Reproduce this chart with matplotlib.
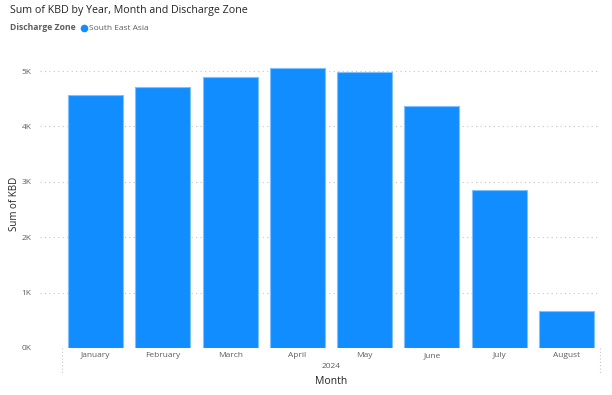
import matplotlib.pyplot as plt
from matplotlib.lines import Line2D

plt.rcParams['font.family'] = ['Open Sans', 'DejaVu Sans']

months = ['January', 'February', 'March', 'April', 'May', 'June', 'July', 'August']
kbd = [4570, 4710, 4890, 5050, 4980, 4370, 2850, 670]
yticks = [0, 1000, 2000, 3000, 4000, 5000]
ytick_labels = ['0K', '1K', '2K', '3K', '4K', '5K']

W, H = 612, 395
fig = plt.figure(figsize=(W / 100, H / 100), dpi=100)
# axes from x=40 to 600 px, y from 348 to 60 px (top-origin)
ax = fig.add_axes([40 / W, (H - 348) / H, 560 / W, (348 - 60) / H])

x = list(range(len(months)))
ax.bar(x, kbd, width=0.82, color='#118DFF', edgecolor='#7FC0FF', linewidth=0.8, zorder=3)

ax.set_xlim(-0.5 - 22 / 67.25, 7.5)
ax.set_ylim(0, 5200)
ax.set_yticks(yticks)
ax.set_yticklabels(ytick_labels)
ax.set_xticks(x)
ax.set_xticklabels(months)
ax.tick_params(axis='both', length=0, labelsize=6, labelcolor='#605E5C')
ax.tick_params(axis='y', pad=6)
ax.tick_params(axis='x', pad=3)
ax.grid(axis='y', linestyle=(0, (1, 3)), color='#C8C6C4', linewidth=0.8, zorder=0)
for s in ax.spines.values():
    s.set_visible(False)

ax.set_ylabel('Sum of KBD', fontsize=7, color='#252423')
ax.yaxis.set_label_coords((20 - 40) / 560, 0.5)

# category box under the axis
for px in (62, 600):
    fig.add_artist(Line2D([px / W, px / W], [(H - 348) / H, (H - 373) / H],
                          linestyle=(0, (1, 2)), color='#C8C6C4', linewidth=0.8))

fig.text(331 / W, (H - 367) / H, '2024', fontsize=6, color='#605E5C', ha='center', va='center')
fig.text(331 / W, (H - 381) / H, 'Month', fontsize=7.5, color='#252423', ha='center', va='center')

fig.text(10 / W, (H - 10) / H, 'Sum of KBD by Year, Month and Discharge Zone',
         fontsize=7.7, color='#252423', ha='left', va='center')
fig.text(10 / W, (H - 28) / H, 'Discharge Zone', fontsize=6.2, fontweight='bold',
         color='#605E5C', ha='left', va='center')
fig.add_artist(Line2D([84 / W], [(H - 28) / H], marker='o', markersize=4.5,
                      color='#118DFF', linestyle='none'))
fig.text(89 / W, (H - 28) / H, 'South East Asia', fontsize=6, color='#605E5C',
         ha='left', va='center')

fig.savefig('out.png', dpi=100)
